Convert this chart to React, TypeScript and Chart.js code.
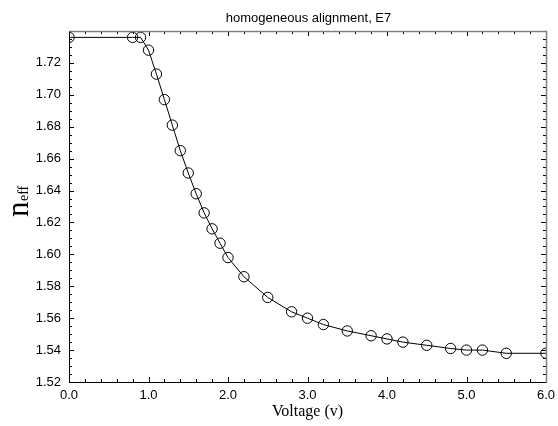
import React, { useEffect, useRef } from 'react';
import { Chart, registerables } from 'chart.js';

Chart.register(...registerables);

// ---- data ----
const voltage = [0, 0.8, 0.9, 1.0, 1.1, 1.2, 1.3, 1.4, 1.5, 1.6, 1.7, 1.8, 1.9, 2.0, 2.2, 2.5, 2.8, 3.0, 3.2, 3.5, 3.8, 4.0, 4.2, 4.5, 4.8, 5.0, 5.2, 5.5, 6.0];
const nEff = [1.736, 1.736, 1.736, 1.728, 1.713, 1.697, 1.681, 1.665, 1.651, 1.638, 1.626, 1.616, 1.607, 1.598, 1.586, 1.573, 1.564, 1.560, 1.556, 1.552, 1.549, 1.547, 1.545, 1.543, 1.541, 1.540, 1.540, 1.538, 1.538];

const xTickValues = [0, 1, 2, 3, 4, 5, 6];
const yTickValues = [1.52, 1.54, 1.56, 1.58, 1.60, 1.62, 1.64, 1.66, 1.68, 1.70, 1.72];
const xMin = 0;
const xMax = 6;
const yMin = 1.52;
const yMax = 1.74;
const xMinorStep = 0.2;
const yMinorStep = 0.005;

const titleText = 'homogeneous alignment, E7';
const xLabel = 'Voltage (v)';
const yLabelMain = 'n';
const yLabelSub = 'eff';

const SANS = '"Liberation Sans", Arial, Helvetica, sans-serif';
const SERIF = '"Liberation Serif", "Times New Roman", serif';

const framePlugin = {
  id: 'framePlugin',
  afterDraw(chart: any) {
    const { ctx, chartArea: a, scales } = chart;
    const xs = scales.x;
    const ys = scales.y;
    ctx.save();

    // inward ticks on all four sides
    ctx.strokeStyle = '#000';
    ctx.lineWidth = 1;
    const nx = Math.round((xMax - xMin) / xMinorStep);
    const perMajorX = Math.round(1 / xMinorStep);
    for (let i = 0; i <= nx; i++) {
      const v = xMin + i * xMinorStep;
      const px = Math.round(xs.getPixelForValue(v)) + 0.5;
      const len = i % perMajorX === 0 ? 5 : 3;
      ctx.beginPath();
      ctx.moveTo(px, a.bottom);
      ctx.lineTo(px, a.bottom - len);
      ctx.moveTo(px, a.top);
      ctx.lineTo(px, a.top + len);
      ctx.stroke();
    }
    const ny = Math.round((yMax - yMin) / yMinorStep);
    const perMajorY = Math.round(0.02 / yMinorStep);
    for (let i = 0; i <= ny; i++) {
      const v = yMin + i * yMinorStep;
      const py = Math.round(ys.getPixelForValue(v)) + 0.5;
      const len = i % perMajorY === 0 ? 5 : 3;
      ctx.beginPath();
      ctx.moveTo(a.left, py);
      ctx.lineTo(a.left + len, py);
      ctx.moveTo(a.right, py);
      ctx.lineTo(a.right - len, py);
      ctx.stroke();
    }

    // frame
    const L = Math.round(a.left) + 0.5;
    const R = Math.round(a.right) + 0.5;
    const T = Math.round(a.top) + 0.5;
    const B = Math.round(a.bottom) + 0.5;
    ctx.strokeStyle = '#000';
    ctx.beginPath();
    ctx.moveTo(L, T);
    ctx.lineTo(L, B);
    ctx.lineTo(R, B);
    ctx.stroke();
    ctx.strokeStyle = '#808080';
    ctx.lineWidth = 1.5;
    ctx.beginPath();
    ctx.moveTo(L, T);
    ctx.lineTo(R, T);
    ctx.lineTo(R, B);
    ctx.stroke();

    // title
    ctx.fillStyle = '#000';
    ctx.font = `13px ${SANS}`;
    ctx.textAlign = 'center';
    ctx.textBaseline = 'alphabetic';
    ctx.fillText(titleText, (a.left + a.right) / 2 + 1, 21.5);

    // y axis label n_eff, rotated
    ctx.save();
    ctx.translate(27.5, 217);
    ctx.rotate(-Math.PI / 2);
    ctx.textAlign = 'left';
    ctx.font = `31px ${SERIF}`;
    ctx.fillText(yLabelMain, 0, 0);
    const w = ctx.measureText(yLabelMain).width;
    ctx.font = `14px ${SERIF}`;
    ctx.fillText(yLabelSub, w + 0.5, 0.5);
    ctx.restore();

    ctx.restore();
  },
};

export default function App() {
  const canvasRef = useRef<HTMLCanvasElement | null>(null);

  useEffect(() => {
    document.body.style.margin = '0';
    const canvas = canvasRef.current;
    if (!canvas) return;
    const chart = new Chart(canvas, {
      type: 'scatter',
      data: {
        datasets: [
          {
            data: voltage.map((v, i) => ({ x: v, y: nEff[i] })),
            showLine: true,
            borderColor: '#000',
            borderWidth: 1,
            pointRadius: 5.2,
            pointBorderWidth: 1,
            pointBorderColor: '#000',
            pointBackgroundColor: 'rgba(0,0,0,0)',
            pointStyle: 'circle',
            tension: 0,
          },
        ],
      },
      options: {
        animation: false,
        responsive: false,
        maintainAspectRatio: false,
        events: [],
        layout: { padding: { top: 31, right: 12, left: 0, bottom: 0 } },
        plugins: {
          legend: { display: false },
          title: { display: false },
          tooltip: { enabled: false },
        },
        scales: {
          x: {
            type: 'linear',
            min: xMin,
            max: xMax,
            grid: { display: false, drawTicks: false },
            border: { display: false },
            afterBuildTicks: (s: any) => {
              s.ticks = xTickValues.map((v) => ({ value: v }));
            },
            ticks: {
              padding: 6,
              color: '#000',
              font: { family: SANS, size: 13 },
              callback: (v: any) => Number(v).toFixed(1),
            },
            title: {
              display: true,
              text: xLabel,
              color: '#000',
              font: { family: SERIF, size: 16 },
              padding: { top: 0, bottom: 5 },
            },
            afterFit: (s: any) => {
              s.height = 44;
              s.paddingLeft = 0;
              s.paddingRight = 0;
            },
          },
          y: {
            type: 'linear',
            min: yMin,
            max: yMax,
            grid: { display: false, drawTicks: false },
            border: { display: false },
            afterBuildTicks: (s: any) => {
              s.ticks = yTickValues.map((v) => ({ value: v }));
            },
            ticks: {
              padding: 8,
              color: '#000',
              font: { family: SANS, size: 13 },
              callback: (v: any) => Number(v).toFixed(2),
            },
            afterFit: (s: any) => {
              s.width = 69;
              s.paddingTop = 0;
              s.paddingBottom = 0;
            },
          },
        },
      },
      plugins: [framePlugin],
    } as any);
    return () => chart.destroy();
  }, []);

  return (
    <div style={{ position: 'absolute', left: 0, top: 0, width: 558, height: 426, background: '#fff' }}>
      <canvas ref={canvasRef} width={558} height={426} style={{ display: 'block' }} />
    </div>
  );
}
